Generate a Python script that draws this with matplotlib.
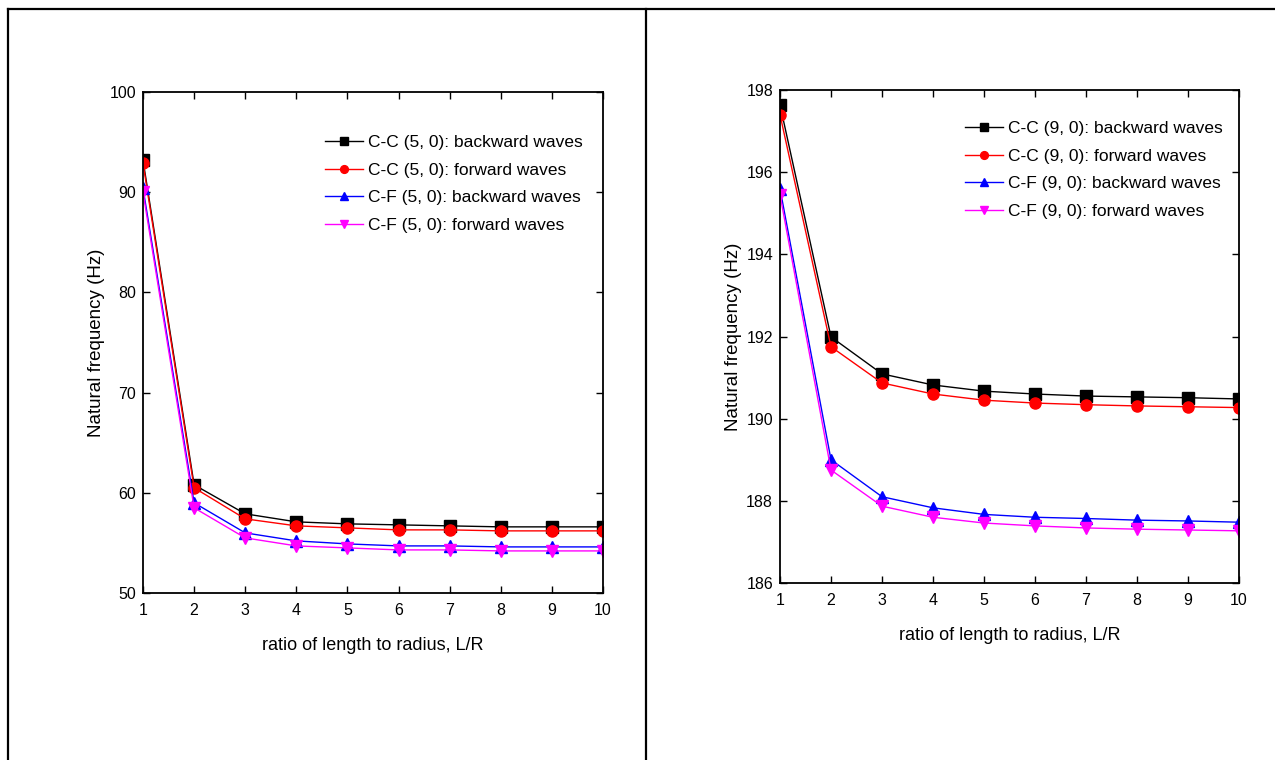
import matplotlib
matplotlib.use("Agg")
import matplotlib.pyplot as plt
from matplotlib.lines import Line2D
from matplotlib.ticker import MultipleLocator

plt.rcParams["font.family"] = ["Liberation Sans", "DejaVu Sans"]

ratio = [1, 2, 3, 4, 5, 6, 7, 8, 9, 10]

# (5, 0) tube
cc5_back = [93.2, 60.8, 57.9, 57.1, 56.9, 56.8, 56.7, 56.6, 56.6, 56.6]
cc5_fwd = [92.9, 60.5, 57.4, 56.7, 56.5, 56.3, 56.3, 56.2, 56.2, 56.2]
cf5_back = [90.4, 59.0, 56.0, 55.2, 54.9, 54.7, 54.7, 54.6, 54.6, 54.6]
cf5_fwd = [90.0, 58.5, 55.5, 54.7, 54.5, 54.3, 54.3, 54.2, 54.2, 54.2]

# (9, 0) tube
cc9_back = [197.64, 191.99, 191.09, 190.82, 190.67, 190.60, 190.55, 190.53, 190.51, 190.48]
cc9_fwd = [197.40, 191.75, 190.87, 190.60, 190.45, 190.38, 190.34, 190.31, 190.29, 190.27]
cf9_back = [195.60, 189.00, 188.10, 187.83, 187.67, 187.60, 187.57, 187.53, 187.51, 187.48]
cf9_fwd = [195.45, 188.75, 187.87, 187.60, 187.46, 187.39, 187.34, 187.31, 187.29, 187.27]

styles = [
    ("black", "s", "backward waves", "C-C"),
    ("red", "o", "forward waves", "C-C"),
    ("blue", "^", "backward waves", "C-F"),
    ("magenta", "v", "forward waves", "C-F"),
]

W, H = 1275, 760
fig = plt.figure(figsize=(W / 100, H / 100), dpi=100)


def px_axes(x0, y0, x1, y1):
    return fig.add_axes([x0 / W, 1 - y1 / H, (x1 - x0) / W, (y1 - y0) / H])


def draw_panel(ax, series, tag, ylim, ystep, leg_anchor):
    for (color, marker, kind, bc), vals in zip(styles, series):
        ax.plot(ratio, vals, color=color, marker=marker, markersize=8,
                linewidth=1, label=f"{bc} ({tag}): {kind}")
    ax.set_xlim(1, 10)
    ax.set_ylim(*ylim)
    ax.xaxis.set_major_locator(MultipleLocator(1))
    ax.yaxis.set_major_locator(MultipleLocator(ystep))
    ax.tick_params(direction="in", top=True, right=True, labeltop=False,
                   labelright=False, length=5, width=1, labelsize=11.5)
    ax.tick_params(axis="x", pad=7)
    ax.tick_params(axis="y", pad=5)
    for s in ax.spines.values():
        s.set_linewidth(1.3)
    ax.set_xlabel("ratio of length to radius, L/R", fontsize=13, labelpad=14)
    ax.set_ylabel("Natural frequency (Hz)", fontsize=13.5, labelpad=3)
    ax.legend(loc="upper left", bbox_to_anchor=leg_anchor, frameon=False,
              fontsize=12.5, handlelength=2.2, handletextpad=0.3,
              labelspacing=0.72, borderpad=0, borderaxespad=0, markerscale=0.7)


ax1 = px_axes(143, 92, 603, 593)
draw_panel(ax1, [cc5_back, cc5_fwd, cf5_back, cf5_fwd], "5, 0", (50, 100), 10,
           ((325 - 143) / 460, (593 - 135) / 501))

ax2 = px_axes(780, 90, 1239, 583)
draw_panel(ax2, [cc9_back, cc9_fwd, cf9_back, cf9_fwd], "9, 0", (186, 198), 2,
           ((965 - 780) / 459, (583 - 121) / 493))

# table borders around the two panels
for xs, ys in [((8 / W, 1), (1 - 9 / H, 1 - 9 / H)),
               ((8 / W, 8 / W), (0, 1 - 9 / H)),
               ((646 / W, 646 / W), (0, 1 - 9 / H))]:
    fig.add_artist(Line2D(xs, ys, color="black", linewidth=1.6))

fig.savefig("out.png", dpi=100)
